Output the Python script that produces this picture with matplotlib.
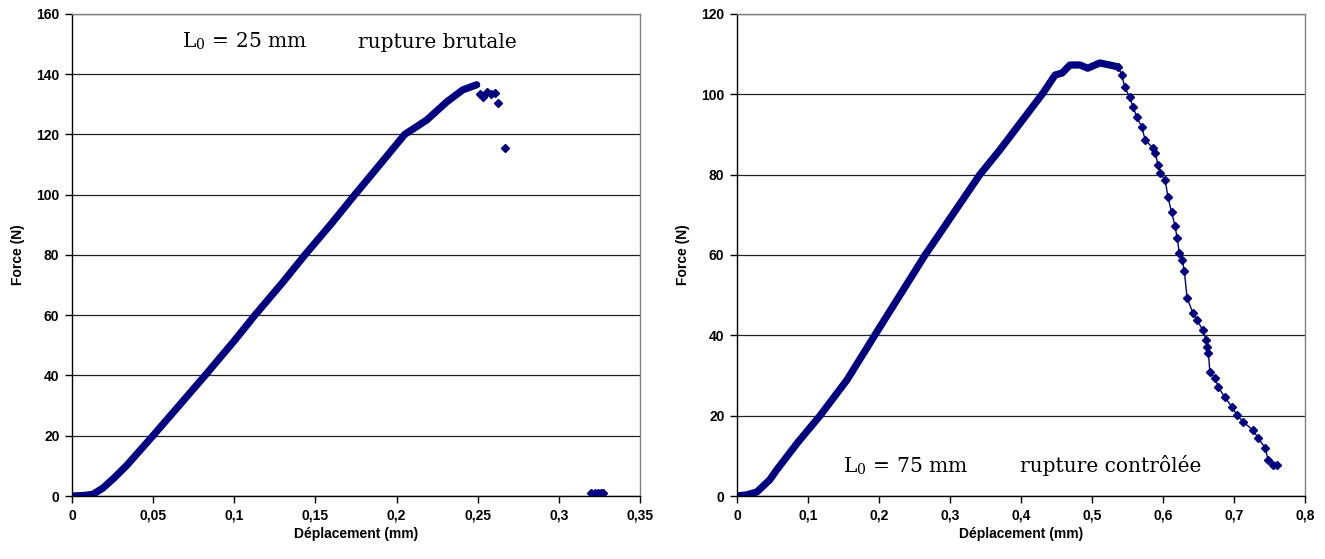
import numpy as np
import matplotlib.pyplot as plt
from matplotlib.ticker import FuncFormatter, MultipleLocator

# Essais de traction : force en fonction du déplacement, deux longueurs utiles

# L0 = 25 mm (rupture brutale)
disp_25 = [0.0, 0.008, 0.013, 0.019, 0.026, 0.034, 0.0499, 0.0647,
           0.082, 0.100, 0.1127, 0.130, 0.1435, 0.160, 0.1743, 0.1897,
           0.205, 0.2186, 0.2309, 0.2408, 0.2494]
force_25 = [0.0, 0.2, 0.6, 2.6, 6.0, 10.3, 20.0, 29.2,
            40.0, 51.5, 60.0, 71.0, 80.0, 90.5, 100.0, 110.0,
            120.0, 124.8, 130.8, 134.8, 136.5]
# points isolés après le pic
disp_25_end = [0.2512, 0.2531, 0.2555, 0.2580, 0.2605, 0.2623, 0.2666,
               0.320, 0.322, 0.324, 0.326, 0.327]
force_25_end = [133.4, 132.4, 134.1, 133.6, 133.8, 130.5, 115.5,
                1.0, 1.0, 1.0, 1.0, 1.0]

# L0 = 75 mm (rupture contrôlée)
disp_75 = [0.0, 0.014, 0.028, 0.046, 0.056, 0.085, 0.117, 0.155, 0.194, 0.265,
           0.342, 0.370, 0.431, 0.448, 0.458, 0.469, 0.483, 0.494, 0.511,
           0.525, 0.537]
force_75 = [0.0, 0.3, 1.0, 4.0, 6.5, 13.2, 20.0, 28.9, 40.0, 60.0,
            80.0, 86.1, 100.3, 104.8, 105.3, 107.3, 107.3, 106.5, 107.8,
            107.3, 106.8]
disp_75_drop = [0.537, 0.542, 0.546, 0.553, 0.558, 0.563, 0.570, 0.575, 0.586,
                0.589, 0.593, 0.596, 0.603, 0.607, 0.612, 0.617, 0.620, 0.623,
                0.627, 0.630, 0.634, 0.642, 0.648, 0.656, 0.661, 0.662, 0.664,
                0.666, 0.673, 0.678, 0.687, 0.697, 0.704, 0.713, 0.727, 0.734,
                0.744, 0.748, 0.755, 0.760]
force_75_drop = [106.8, 104.8, 101.8, 99.3, 96.8, 94.4, 91.9, 88.6, 86.6,
                 85.4, 82.4, 80.4, 78.7, 74.4, 70.7, 67.2, 64.2, 60.5,
                 58.8, 56.0, 49.3, 45.6, 43.8, 41.3, 38.8, 37.1, 35.6,
                 30.9, 29.4, 27.1, 24.6, 22.2, 20.2, 18.4, 16.4, 14.4,
                 12.0, 9.0, 7.7, 7.6]

navy = '#000080'
plt.rcParams['font.family'] = ['Liberation Sans', 'DejaVu Sans']
plt.rcParams['mathtext.fontset'] = 'stix'

fig = plt.figure(figsize=(13.25, 5.59), dpi=100)
ax1 = fig.add_axes([0.0543, 0.1127, 0.4287, 0.8623])
ax2 = fig.add_axes([0.5562, 0.1127, 0.4287, 0.8623])

comma = FuncFormatter(lambda v, p: ('%g' % round(v, 3)).replace('.', ','))


def style(ax, xmax, xstep, ymax, ystep):
    ax.set_xlim(0, xmax)
    ax.set_ylim(0, ymax)
    ax.xaxis.set_major_locator(MultipleLocator(xstep))
    ax.yaxis.set_major_locator(MultipleLocator(ystep))
    ax.xaxis.set_major_formatter(comma)
    ax.yaxis.set_major_formatter(comma)
    ax.grid(axis='y', color='#202020', linewidth=0.9)
    ax.set_axisbelow(True)
    for s in ['top', 'right']:
        ax.spines[s].set_color('#808080')
        ax.spines[s].set_linewidth(1.0)
    for s in ['left', 'bottom']:
        ax.spines[s].set_color('black')
        ax.spines[s].set_linewidth(1.0)
    ax.tick_params(direction='out', length=5, width=1, labelsize=10, pad=4)
    for lab in ax.get_xticklabels() + ax.get_yticklabels():
        lab.set_fontweight('bold')
    ax.set_xlabel('Déplacement (mm)', fontsize=10, fontweight='bold', labelpad=3)
    ax.set_ylabel('Force (N)', fontsize=10, fontweight='bold', labelpad=8)


style(ax1, 0.35, 0.05, 160, 20)
style(ax2, 0.8, 0.1, 120, 20)

# gauche : nuage de points très dense jusqu'au pic
ax1.plot(disp_25, force_25, color=navy, linewidth=5.2, solid_capstyle='round',
         solid_joinstyle='round')
ax1.plot(disp_25_end, force_25_end, 'D', color=navy, markersize=4.5)

# droite : courbe avec marqueurs
ax2.plot(disp_75, force_75, color=navy, linewidth=5.2, solid_capstyle='round',
         solid_joinstyle='round')
ax2.plot(disp_75_drop, force_75_drop, '-D', color=navy, linewidth=1,
         markersize=4.5)

serif = dict(fontfamily='DejaVu Serif', fontsize=14.5, color='black')
ax1.text(0.194, 0.93, r'L$_{\mathregular{0}}$ = 25 mm', transform=ax1.transAxes, **serif)
ax1.text(0.504, 0.93, 'rupture brutale', transform=ax1.transAxes, **serif)
ax2.text(0.187, 0.05, r'L$_{\mathregular{0}}$ = 75 mm', transform=ax2.transAxes, **serif)
ax2.text(0.498, 0.05, 'rupture contrôlée', transform=ax2.transAxes, **serif)

fig.savefig('out.png', dpi=100)
